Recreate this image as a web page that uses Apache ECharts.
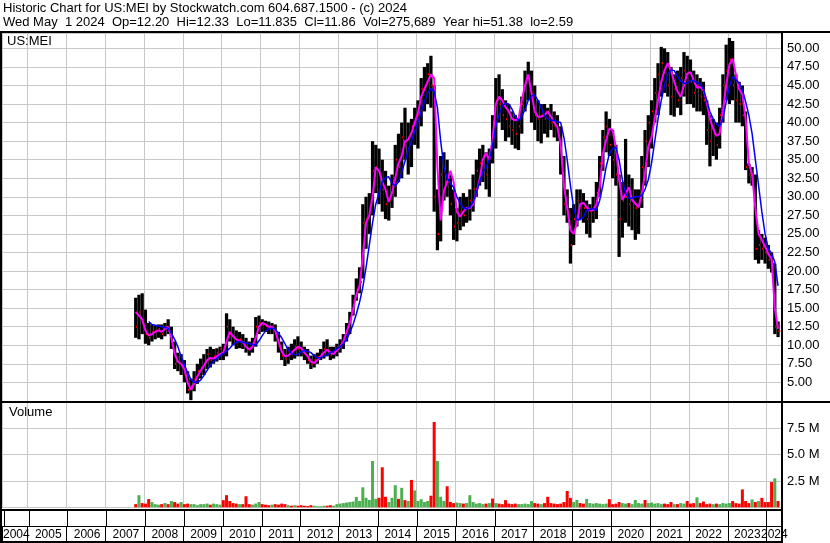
<!DOCTYPE html>
<html>
<head>
<meta charset="utf-8">
<title>Historic Chart for US:MEI</title>
<script src="https://cdn.jsdelivr.net/npm/echarts@6.0.0/dist/echarts.min.js"></script>
<style>
  html, body { margin: 0; padding: 0; background: #fff; }
  #chart { width: 830px; height: 543px; }
</style>
</head>
<body>
<div id="chart"></div>
<script>
// monthly bars, first one is Oct 2007, last one Apr 2024
const firstYear = 2007;
const firstMonth = 10;
const yearLabels = ['2004', '2005', '2006', '2007', '2008', '2009', '2010', '2011', '2012', '2013',
  '2014', '2015', '2016', '2017', '2018', '2019', '2020', '2021', '2022', '2023', '2024'];

const lows = [
  11.0, 10.8, 11.5,
  10.2, 10.0, 10.5, 10.8, 11.0, 10.8, 11.2, 11.5, 9.5, 6.8, 6.5, 6.0,
  5.0, 3.5, 2.6, 3.8, 4.8, 5.5, 6.0, 6.8, 7.0, 7.5, 7.8, 8.0,
  8.0, 8.5, 10.5, 10.0, 9.5, 9.6, 9.5, 9.0, 8.6, 9.0, 9.8, 11.5,
  11.8, 11.8, 11.5, 11.5, 10.5, 9.0, 8.0, 7.2, 7.5, 8.0, 8.2, 8.5,
  8.5, 8.0, 7.5, 6.8, 7.0, 7.5, 8.0, 8.2, 8.5, 8.0, 8.2, 8.5,
  9.0, 9.5, 10.5, 11.5, 14.0, 16.0, 17.0, 19.0, 23.0, 25.0, 27.5, 30.5,
  29.0, 28.0, 27.0, 26.8, 28.5, 30.0, 32.0, 32.5, 35.0, 33.0, 34.0, 37.0,
  36.5, 39.5, 41.5, 42.5, 42.0, 28.0, 22.8, 24.0, 29.5, 30.0, 27.5, 24.2,
  24.0, 25.5, 26.0, 26.5, 26.8, 28.0, 30.0, 31.5, 32.0, 31.0, 30.0, 34.5,
  36.5, 40.0, 39.0, 37.5, 38.0, 37.0, 36.5, 36.3, 38.5, 41.5, 43.0, 40.0,
  39.0, 37.5, 37.2, 38.5, 38.0, 39.0, 38.0, 37.5, 33.0, 27.5, 26.5, 21.0,
  23.5, 26.0, 27.0, 26.5, 25.0, 24.5, 26.5, 27.0, 30.0, 33.5, 36.0, 35.5,
  32.5, 31.5, 21.9, 24.5, 26.5, 26.0, 25.5, 24.2, 25.0, 28.5, 31.5, 34.0,
  36.5, 40.0, 41.0, 43.5, 44.0, 43.5, 41.0, 40.8, 42.0, 41.0, 43.5, 42.5,
  42.5, 42.0, 41.5, 41.5, 41.0, 37.0, 34.1, 35.5, 35.0, 36.5, 40.0, 43.0,
  42.5, 43.0, 40.0, 40.0, 39.5, 33.6, 31.8, 31.5, 21.5, 21.0, 21.5, 21.0,
  20.3, 19.8, 11.5, 11.1
];
const highs = [
  16.4, 16.8, 17.0,
  14.8, 13.0, 12.8, 12.6, 12.8, 12.8, 13.0, 13.5, 12.5, 10.5, 9.0, 8.8,
  8.0, 6.5, 5.5, 6.5, 7.5, 8.2, 8.8, 9.5, 9.8, 9.5, 9.6, 9.8,
  10.2, 14.3, 13.5, 12.5, 12.0, 11.8, 11.5, 11.0, 10.5, 11.0, 13.8, 14.0,
  13.5, 13.3, 13.2, 13.0, 12.8, 11.8, 10.5, 9.5, 9.8, 10.2, 10.8, 11.2,
  10.5, 9.8, 9.5, 8.6, 8.8, 9.0, 9.5, 10.5, 10.8, 9.8, 9.8, 10.2,
  10.8, 11.5, 13.0, 14.5, 16.8, 19.0, 20.5, 29.0, 30.0, 30.5, 37.5, 37.0,
  36.5, 35.0, 33.5, 31.5, 33.0, 37.0, 38.5, 40.0, 42.0, 40.0, 40.5, 42.0,
  43.0, 46.0, 47.5, 48.0, 49.0, 45.0, 31.0, 35.5, 36.0, 35.0, 33.0, 31.0,
  28.5, 30.0, 30.5, 30.0, 31.0, 33.0, 35.0, 36.5, 37.0, 36.0, 36.5, 41.0,
  46.0, 46.5, 44.5, 43.0, 42.5, 41.5, 41.0, 40.5, 43.5, 47.0, 48.2, 47.0,
  45.0, 43.0, 42.5, 42.5, 42.0, 42.5, 41.5, 41.0, 39.5, 35.5, 31.0, 28.5,
  29.0, 31.0, 31.0, 30.5, 29.5, 29.0, 30.0, 32.0, 35.5, 39.0, 41.5, 40.5,
  39.0, 37.0, 33.0, 32.0, 37.8, 33.0, 32.5, 31.0, 31.0, 35.5, 39.0, 41.0,
  43.0, 46.0, 48.0, 50.2, 50.0, 49.5, 47.5, 46.5, 47.0, 47.5, 49.5, 49.0,
  48.5, 47.0, 46.5, 46.0, 45.5, 43.0, 41.0, 40.5, 40.0, 42.0, 46.5, 50.5,
  51.4, 51.0, 46.5, 45.5, 45.0, 41.5, 34.5, 34.0, 33.0, 25.5, 25.0, 24.5,
  23.5, 22.5, 21.0, 13.2
];
const closes = [
  12.5, 14.5, 13.0,
  11.5, 11.0, 11.8, 12.0, 12.2, 11.5, 12.5, 12.0, 10.0, 7.5, 7.8, 7.2,
  6.0, 4.0, 4.5, 5.5, 6.5, 7.0, 7.5, 8.8, 8.0, 8.5, 9.0, 9.5,
  9.0, 12.5, 11.5, 11.0, 10.5, 10.8, 10.3, 9.8, 9.5, 10.3, 12.5, 13.0,
  12.8, 12.6, 12.3, 12.5, 11.5, 9.8, 8.6, 8.2, 9.2, 8.8, 9.8, 9.5,
  9.3, 8.8, 8.0, 7.4, 8.0, 8.4, 8.8, 9.5, 9.3, 8.7, 9.2, 9.7,
  10.0, 11.0, 12.5, 13.5, 16.0, 17.5, 18.5, 26.5, 27.0, 28.5, 33.5, 34.0,
  33.0, 31.0, 29.0, 29.5, 31.5, 35.0, 34.0, 38.0, 37.5, 38.0, 39.5, 40.5,
  41.0, 44.5, 45.0, 46.5, 45.0, 30.0, 25.0, 33.0, 33.5, 32.0, 29.0, 26.0,
  26.5, 28.0, 27.5, 28.5, 29.5, 31.0, 33.5, 34.5, 35.5, 33.0, 35.5, 40.0,
  43.0, 42.5, 41.0, 40.5, 39.5, 39.0, 38.5, 39.5, 42.5, 45.5, 46.0, 43.0,
  41.0, 40.5, 41.0, 40.5, 41.5, 40.0, 39.5, 38.5, 35.0, 29.0, 28.0, 23.5,
  27.0, 29.5, 29.0, 28.5, 27.0, 28.0, 28.5, 30.5, 34.5, 38.0, 39.5, 37.0,
  35.0, 33.0, 27.0, 29.5, 30.0, 29.0, 29.5, 28.5, 29.5, 34.0, 37.5, 40.0,
  41.5, 44.0, 46.5, 48.0, 47.5, 45.0, 43.5, 44.5, 43.0, 46.0, 47.0, 45.5,
  45.5, 44.0, 45.0, 43.5, 43.0, 39.0, 37.5, 38.5, 37.0, 41.0, 45.0, 47.0,
  48.5, 45.0, 43.0, 42.5, 41.0, 34.0, 33.0, 32.5, 23.0, 23.5, 23.0, 22.5,
  21.5, 21.0, 12.5, 11.9
];
// magenta (short) and blue (long) moving averages as drawn
const avgShort = [
  14.5, 14.0, 13.5,
  12.0, 11.3, 11.5, 11.8, 12.0, 11.8, 12.2, 12.5, 11.0, 8.8, 7.8, 7.5,
  6.8, 5.0, 4.0, 4.8, 5.8, 6.6, 7.2, 8.0, 8.3, 8.2, 8.5, 8.8,
  9.0, 10.5, 11.8, 11.2, 10.8, 10.6, 10.4, 9.8, 9.4, 9.8, 11.0, 12.5,
  13.0, 12.8, 12.5, 12.5, 12.0, 10.5, 9.2, 8.5, 8.6, 9.0, 9.4, 9.8,
  9.6, 9.0, 8.5, 7.8, 7.6, 8.0, 8.5, 9.0, 9.4, 9.0, 8.8, 9.3,
  9.8, 10.5, 11.8, 13.0, 14.8, 16.8, 18.0, 22.0, 26.5, 27.5, 30.0, 34.0,
  33.5, 32.0, 31.0, 29.3, 30.5, 32.5, 34.5, 35.5, 37.5, 37.7, 38.6, 40.0,
  41.3, 43.5, 44.5, 45.5, 46.5, 46.0, 34.0, 26.8, 30.8, 32.0, 33.5, 32.0,
  28.0, 27.3, 28.0, 28.5, 28.5, 29.0, 30.5, 32.3, 35.0, 35.9, 35.0, 37.7,
  42.5, 43.5, 43.0, 42.1, 41.5, 40.5, 40.3, 40.5, 43.0, 45.0, 46.5, 44.0,
  41.5, 40.8, 40.8, 41.0, 41.5, 40.8, 40.0, 39.4, 37.0, 31.5, 28.5, 25.5,
  25.0, 26.5, 29.0, 29.2, 28.6, 28.2, 28.2, 29.0, 31.3, 35.8, 37.6, 39.2,
  39.0, 36.7, 32.3, 29.6, 30.4, 31.3, 29.6, 29.1, 28.6, 30.4, 33.2, 36.8,
  38.0, 40.5, 43.0, 45.5, 47.0, 48.0, 47.0, 45.5, 44.2, 43.5, 45.0, 46.6,
  46.8, 45.7, 44.7, 44.8, 44.4, 42.8, 40.5, 39.2, 38.2, 38.5, 41.5, 45.0,
  47.8, 48.6, 46.5, 44.5, 43.8, 40.5, 34.5, 33.0, 28.5, 25.0, 24.2, 23.3,
  22.3, 21.6, 15.0, 12.2
];
const avgLong = [
  null, null, null,
  null, 13.2, 12.8, 12.7, 12.6, 12.5, 12.4, 12.3, 11.6, 10.8, 9.8, 8.5,
  7.4, 6.3, 5.4, 5.0, 5.0, 5.3, 5.9, 6.6, 7.3, 7.8, 8.2, 8.6,
  8.9, 9.2, 9.6, 10.1, 10.4, 10.5, 10.4, 10.3, 10.2, 10.1, 10.0, 10.6,
  11.3, 11.9, 12.2, 12.3, 12.2, 11.6, 11.0, 10.2, 9.4, 8.9, 8.7, 8.8,
  9.1, 9.3, 9.2, 9.0, 8.6, 8.3, 8.3, 8.5, 8.7, 9.0, 9.2, 9.5,
  9.8, 10.2, 10.8, 11.7, 12.8, 14.2, 15.8, 17.8, 20.5, 23.5, 26.5, 29.0,
  30.5, 32.0, 32.6, 32.7, 31.8, 31.5, 32.0, 33.3, 34.8, 36.3, 37.5, 38.7,
  40.0, 41.5, 42.8, 44.0, 44.6, 44.2, 42.0, 37.5, 34.0, 32.5, 31.8, 31.3,
  30.0, 29.1, 28.5, 28.4, 28.6, 29.3, 30.5, 32.0, 33.3, 34.0, 35.0, 37.0,
  39.5, 41.0, 42.3, 42.6, 42.5, 41.8, 40.8, 40.3, 40.8, 41.8, 43.0, 43.6,
  43.7, 43.0, 42.0, 41.0, 40.5, 40.3, 40.3, 40.1, 40.0, 38.0, 35.0, 31.5,
  28.5, 26.9, 26.9, 27.3, 28.2, 28.3, 28.4, 28.2, 29.5, 31.5, 34.0, 35.8,
  36.5, 36.7, 35.0, 32.3, 30.5, 29.8, 29.8, 30.0, 30.0, 30.2, 31.0, 32.3,
  34.5, 37.5, 40.5, 43.0, 45.0, 46.5, 47.1, 47.0, 46.2, 45.6, 45.3, 45.3,
  45.7, 45.6, 45.4, 45.2, 44.5, 43.0, 41.5, 40.5, 39.8, 39.5, 40.5, 42.8,
  44.8, 46.2, 45.8, 45.3, 44.5, 42.8, 41.0, 38.5, 35.0, 31.5, 28.0, 25.0,
  23.0, 22.4, 21.2, 18.0
];
// volume in millions of shares, volUp 1 = green bar, 0 = red bar
const volumes = [
  0.3, 1.15, 0.4,
  0.35, 0.78, 0.5, 0.3, 0.25, 0.3, 0.4, 0.3, 0.6, 0.5, 0.35, 0.5,
  0.3, 0.35, 0.3, 0.3, 0.2, 0.3, 0.3, 0.35, 0.25, 0.35, 0.3, 0.25,
  0.68, 1.15, 0.6, 0.4, 0.35, 0.3, 0.3, 1.05, 0.3, 0.25, 0.35, 0.5,
  0.3, 0.25, 0.2, 0.25, 0.3, 0.25, 0.35, 0.3, 0.2, 0.15, 0.2, 0.15,
  0.2, 0.15, 0.12, 0.2, 0.15, 0.1, 0.1, 0.15, 0.15, 0.2, 0.15, 0.3,
  0.35, 0.4, 0.45, 0.5, 0.55, 0.98, 0.6, 1.9, 0.9, 0.7, 4.4, 0.8,
  0.9, 3.8, 1.0, 0.5, 0.9, 2.1, 0.8, 1.85, 0.68, 0.6, 2.6, 1.6,
  0.6, 0.77, 0.5, 0.6, 1.1, 8.1, 4.4, 1.0, 0.6, 2.0, 0.5, 0.4,
  0.45, 0.4, 0.35, 0.4, 1.15, 0.5, 0.35, 0.4, 0.3, 0.35, 0.4, 0.83,
  0.4, 0.35, 0.3, 0.68, 0.35, 0.3, 0.35, 0.3, 0.3, 0.35, 0.3, 0.6,
  0.4, 0.35, 0.3, 0.4, 1.0, 0.4, 0.35, 0.3, 0.35, 0.5, 1.55, 0.9,
  0.5, 0.7, 0.4, 0.35, 0.8, 0.4, 0.35, 0.4, 0.35, 0.3, 0.35, 0.77,
  0.3, 0.35, 0.5, 0.4, 0.35, 0.4, 0.3, 0.7, 0.4, 0.35, 0.7, 0.4,
  0.45, 0.35, 0.4, 0.3, 0.35, 0.3, 0.5, 0.3, 0.3, 0.4, 0.35, 0.6,
  0.35, 0.4, 0.95, 0.4, 0.55, 0.3, 0.35, 0.3, 0.35, 0.3, 0.4, 0.35,
  0.4, 0.6, 0.4, 0.35, 1.7, 0.6, 0.4, 0.75, 0.5, 0.6, 0.9, 0.5,
  0.5, 2.4, 2.75, 0.6
];
const volUp = [
  0, 1, 0,
  0, 0, 1, 1, 1, 0, 1, 0, 1, 0, 0, 1,
  0, 0, 1, 1, 1, 1, 1, 1, 0, 1, 1, 1,
  0, 0, 0, 0, 0, 1, 0, 0, 0, 1, 1, 1,
  0, 0, 0, 1, 0, 0, 0, 0, 1, 0, 1, 0,
  0, 0, 0, 0, 1, 1, 1, 1, 0, 0, 1, 1,
  1, 1, 1, 1, 1, 1, 1, 1, 1, 1, 1, 1,
  0, 0, 0, 1, 1, 1, 0, 1, 0, 1, 0, 1,
  1, 1, 1, 1, 0, 0, 1, 1, 1, 0, 0, 0,
  1, 1, 0, 1, 1, 1, 1, 1, 1, 0, 1, 0,
  1, 0, 0, 0, 0, 0, 0, 1, 1, 1, 1, 1,
  0, 0, 1, 0, 0, 0, 0, 0, 0, 0, 0, 0,
  1, 1, 0, 0, 1, 1, 1, 1, 1, 1, 1, 0,
  0, 0, 0, 1, 1, 0, 1, 1, 1, 1, 0, 1,
  1, 1, 1, 1, 0, 0, 0, 1, 0, 1, 1, 0,
  0, 0, 1, 0, 0, 0, 0, 1, 0, 1, 1, 1,
  1, 0, 0, 0, 0, 0, 0, 1, 0, 1, 0, 0,
  0, 0, 1, 0
];

const FONT = '"Liberation Sans", Arial, sans-serif';
const X0 = 2004.357;   // left edge of the plot
const X1 = 2024.393;   // right edge (early May 2024)
const GRID_GREY = '#c8c8c8';

function monthX(i) {
  return firstYear + (firstMonth - 1 + i + 0.5) / 12;
}

const barData = closes.map((c, i) => [monthX(i), lows[i], highs[i], c]);
const shortData = avgShort.map((v, i) => [monthX(i), v == null ? '-' : v]);
const longData = avgLong.map((v, i) => [monthX(i), v == null ? '-' : v]);
const volData = volumes.map((v, i) => ({
  value: [monthX(i), v],
  itemStyle: { color: volUp[i] ? '#4caf50' : '#ff0000' }
}));

// year label sits in the middle of the visible part of its year
const labelPos = yearLabels.map(y => {
  const a = Math.max(+y, X0), b = Math.min(+y + 1, X1);
  return (a + b) / 2;
});

function timeAxis(gridIndex, color) {
  return {
    type: 'value', gridIndex: gridIndex, min: X0, max: X1,
    minInterval: 1, maxInterval: 1, splitNumber: 20,
    axisLine: { show: false }, axisTick: { show: false }, axisLabel: { show: false },
    splitLine: { show: true, lineStyle: { color: color, width: 1 } }
  };
}

function renderBar(params, api) {
  const x = api.value(0);
  const top = api.coord([x, api.value(2)]);
  const bot = api.coord([x, api.value(1)]);
  const cl = api.coord([x, api.value(3)]);
  const w = api.size([1 / 12, 0])[0];
  return {
    type: 'group',
    children: [
      { type: 'rect', shape: { x: top[0] - w * 0.5, y: top[1], width: w, height: Math.max(1, bot[1] - top[1]) },
        style: { fill: '#000' } },
      { type: 'rect', shape: { x: cl[0] + w * 0.1, y: cl[1] - 1, width: 2, height: 2 },
        style: { fill: '#ff0000' } }
    ]
  };
}

function hline(y, x2, h) {
  return { type: 'rect', z: 100, shape: { x: 0, y: y, width: x2, height: h }, style: { fill: '#000' } };
}
function vline(x, w) {
  return { type: 'rect', z: 100, shape: { x: x, y: 31, width: w, height: 512 }, style: { fill: '#000' } };
}

const chart = echarts.init(document.getElementById('chart'));
chart.setOption({
  animation: false,
  backgroundColor: '#fff',
  grid: [
    { left: 2, right: 48, top: 33, height: 367.9 },
    { left: 2, right: 48, top: 402, height: 105.3 },
    { left: 2, right: 48, top: 511, height: 15 },
    { left: 2, right: 48, top: 527, height: 14 }
  ],
  xAxis: [
    timeAxis(0, GRID_GREY),
    timeAxis(1, GRID_GREY),
    timeAxis(2, '#000'),
    timeAxis(3, '#000'),
    {
      type: 'value', gridIndex: 2, min: X0, max: X1, position: 'bottom',
      axisLine: { show: false }, axisTick: { show: false }, splitLine: { show: false },
      axisLabel: {
        customValues: labelPos, margin: 3, color: '#000', fontSize: 12, fontFamily: FONT,
        formatter: v => String(Math.floor(v + 1e-6))
      }
    }
  ],
  yAxis: [
    {
      type: 'value', gridIndex: 0, position: 'right', min: 2.5, max: 52.07, interval: 2.5,
      axisLine: { show: false }, axisTick: { show: false },
      splitLine: { lineStyle: { color: GRID_GREY } },
      axisLabel: { showMinLabel: false, showMaxLabel: false, margin: 5, color: '#000',
        fontSize: 13, fontFamily: FONT, formatter: v => v.toFixed(2) }
    },
    {
      type: 'value', gridIndex: 1, position: 'right', min: 0, max: 10, interval: 2.5,
      axisLine: { show: false }, axisTick: { show: false },
      splitLine: { lineStyle: { color: GRID_GREY } },
      axisLabel: { showMinLabel: false, showMaxLabel: false, margin: 5, color: '#000',
        fontSize: 13, fontFamily: FONT, formatter: v => v.toFixed(1) + ' M' }
    },
    { type: 'value', gridIndex: 2, show: false },
    { type: 'value', gridIndex: 3, show: false }
  ],
  series: [
    { type: 'custom', name: 'US:MEI', xAxisIndex: 0, yAxisIndex: 0, data: barData,
      renderItem: renderBar, encode: { x: 0, y: [1, 2] }, clip: true },
    { type: 'line', name: 'short avg', xAxisIndex: 0, yAxisIndex: 0, data: shortData,
      showSymbol: false, lineStyle: { color: '#ff00ff', width: 2 } },
    { type: 'line', name: 'long avg', xAxisIndex: 0, yAxisIndex: 0, data: longData,
      showSymbol: false, lineStyle: { color: '#0000ff', width: 1.5 } },
    { type: 'bar', name: 'Volume', xAxisIndex: 1, yAxisIndex: 1, data: volData, barWidth: 3 }
  ],
  graphic: [
    { type: 'text', left: 3, top: 2, z: 100, style: { text: 'Historic Chart for US:MEI by Stockwatch.com 604.687.1500 - (c) 2024',
      font: '13px ' + FONT, fill: '#000' } },
    { type: 'text', left: 3, top: 16, z: 100, style: { text: 'Wed May  1 2024  Op=12.20  Hi=12.33  Lo=11.835  Cl=11.86  Vol=275,689  Year hi=51.38  lo=2.59',
      font: '13px ' + FONT, fill: '#000' } },
    { type: 'text', left: 7, top: 35, z: 100, style: { text: 'US:MEI', font: '13px ' + FONT, fill: '#000' } },
    { type: 'text', left: 9, top: 406, z: 100, style: { text: 'Volume', font: '13px ' + FONT, fill: '#000' } },
    hline(31, 830, 2),
    hline(401, 830, 2),
    hline(509, 783, 2),
    hline(526, 783, 1),
    hline(541, 783, 2),
    vline(0, 2),
    vline(781, 2)
  ]
});
</script>
</body>
</html>
